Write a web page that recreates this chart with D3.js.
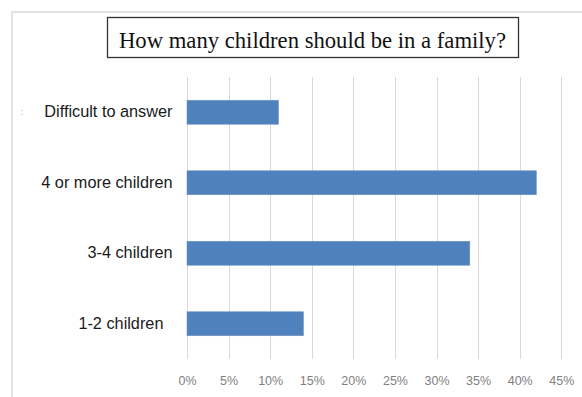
<!DOCTYPE html>
<html>
<head>
<meta charset="utf-8">
<script src="https://cdn.jsdelivr.net/npm/d3@7"></script>
<style>
  html, body { margin: 0; padding: 0; background: #fff; }
  svg { display: block; }
</style>
</head>
<body>
<svg id="chart" width="582" height="397"></svg>
<script>
const title = "How many children should be in a family?";
const categories = ["Difficult to answer", "4 or more children", "3-4 children", "1-2 children\u00a0\u00a0"];
const values = [11, 42, 34, 14];
const tickValues = [0, 5, 10, 15, 20, 25, 30, 35, 40, 45];
const tickLabels = ["0%", "5%", "10%", "15%", "20%", "25%", "30%", "35%", "40%", "45%"];

const svg = d3.select("#chart");

// outer chart frame
svg.append("rect")
  .attr("x", 12).attr("y", 12)
  .attr("width", 600).attr("height", 420)
  .attr("fill", "#fff")
  .attr("stroke", "#d9d9d9")
  .attr("stroke-width", 1.5);

const x = d3.scaleLinear().domain([0, 45]).range([187, 561.3]);
const y = d3.scaleBand().domain(categories).range([77, 359]).paddingInner(0.66).paddingOuter(0.33);

// gridlines
svg.append("g")
  .selectAll("line")
  .data(tickValues)
  .join("line")
  .attr("x1", d => Math.round(x(d)) + 0.5)
  .attr("x2", d => Math.round(x(d)) + 0.5)
  .attr("y1", 77).attr("y2", 359)
  .attr("stroke", "#d9d9d9")
  .attr("stroke-width", 1);

// x axis labels
const xAxis = d3.axisBottom(x)
  .tickValues(tickValues)
  .tickFormat((d, i) => tickLabels[i])
  .tickSize(0)
  .tickPadding(0);
const gx = svg.append("g").attr("transform", "translate(0,376.5)").call(xAxis);
gx.select(".domain").remove();
gx.selectAll("text")
  .attr("font-family", "'Liberation Sans', Arial, sans-serif")
  .attr("font-size", 12.5)
  .attr("fill", "#808080");

// bars
svg.append("g")
  .selectAll("rect")
  .data(values)
  .join("rect")
  .attr("x", x(0))
  .attr("y", (d, i) => y(categories[i]))
  .attr("width", d => x(d) - x(0))
  .attr("height", y.bandwidth())
  .attr("fill", "#4f81bd")
  .attr("stroke", "#6f97c8")
  .attr("stroke-width", 0.6);

// y axis labels
const yAxis = d3.axisLeft(y).tickSize(0).tickPadding(0);
const gy = svg.append("g").attr("transform", "translate(172.5,0)").call(yAxis);
gy.select(".domain").remove();
gy.selectAll("text")
  .attr("font-family", "'Liberation Sans', Arial, sans-serif")
  .attr("font-size", 16.3)
  .attr("fill", "#1a1a1a");

// tiny stray mark left of first label
svg.append("text")
  .attr("x", 22).attr("y", y(categories[0]) + y.bandwidth() / 2 + 3)
  .attr("text-anchor", "middle")
  .attr("font-family", "'Liberation Sans', Arial, sans-serif")
  .attr("font-size", 9)
  .attr("fill", "#a0a0a0")
  .text(":");

// title box
svg.append("rect")
  .attr("x", 107.5).attr("y", 17.5)
  .attr("width", 411).attr("height", 40)
  .attr("fill", "#fff")
  .attr("stroke", "#333")
  .attr("stroke-width", 1.3);
svg.append("text")
  .attr("x", 119).attr("y", 47.5)
  .attr("font-family", "'Liberation Serif', 'Times New Roman', serif")
  .attr("font-size", 24)
  .attr("fill", "#111")
  .attr("textLength", 387)
  .attr("lengthAdjust", "spacingAndGlyphs")
  .text(title);
</script>
</body>
</html>
